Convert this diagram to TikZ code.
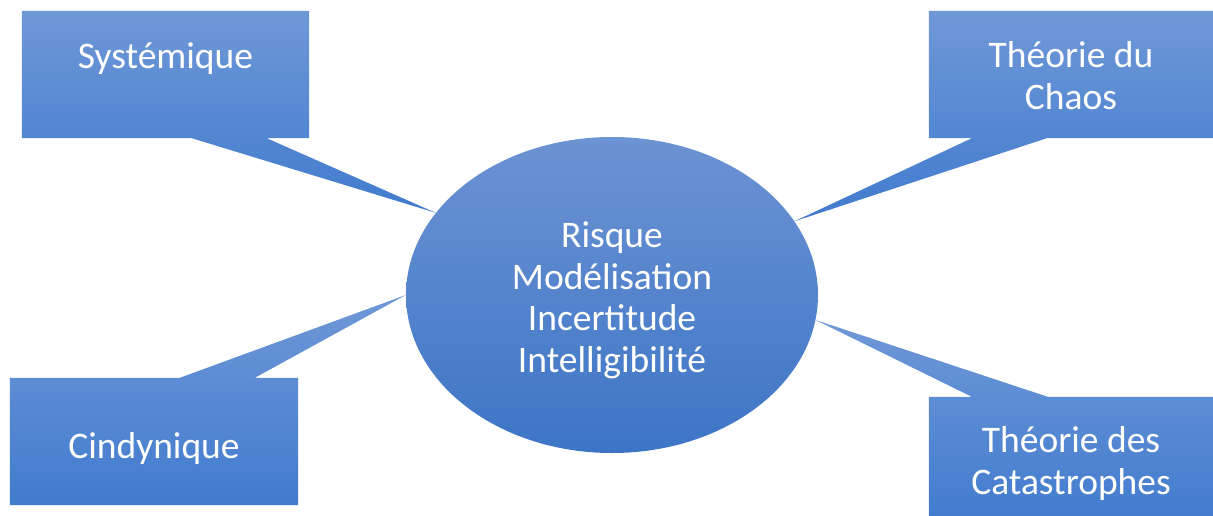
\documentclass[tikz,border=0pt]{standalone}
\usepackage{fontspec}
\setmainfont{Carlito}
\usetikzlibrary{shapes.geometric, positioning, backgrounds, calc}
\definecolor{calltop}{HTML}{6F98D7}
\definecolor{callbot}{HTML}{417BCE}
\definecolor{coretop}{HTML}{6C93D3}
\definecolor{corebot}{HTML}{3D75C6}

\begin{document}
\begin{tikzpicture}[
  x=1pt, y=-1pt,
  every node/.style={align=center},
  lbl/.style={text=white, font=\fontsize{37.5}{41.5}\selectfont, inner sep=0pt},
  boxframe/.style={rectangle, inner sep=0pt, minimum height=127pt},
  bubble/.style={top color=calltop, bottom color=callbot, draw=none},
  core/.style={ellipse, inner sep=0pt, minimum width=412pt, minimum height=316pt,
               top color=coretop, bottom color=corebot, draw=none},
]
\useasboundingbox (0,0) rectangle (1213,515);
\clip (0,0) rectangle (1213,515);

% ---------- central ellipse ----------
\node[core] (core) at (612,295) {};
\node[lbl, anchor=base] (corelbl) at (core |- 0,372) {Risque\\ Modélisation\\ Incertitude\\ Intelligibilité};

% ---------- callout frames ----------
\node[boxframe, minimum width=287pt] (sysbox)   at (165.5,74.5) {};
\node[boxframe, minimum width=284pt] (chaosbox) at (1071,74.5)  {};
\node[boxframe, minimum width=288pt] (cindbox)  at (154,441.5)  {};
\node[boxframe, minimum width=284pt] (catabox)  at (1071,460.5) {};

% ---------- callout texts (base = last line) ----------
\node[lbl, anchor=base] (sys)   at (165.5,68) {Systémique};
\node[lbl, anchor=base] (chaos) at (1071,109) {Théorie du\\ Chaos};
\node[lbl, anchor=base] (cind)  at (154,458)  {Cindynique};
\node[lbl, anchor=base] (cata)  at (1071,494) {Théorie des\\ Catastrophes};

% ---------- callout bodies with tails (behind the texts) ----------
\begin{scope}[on background layer]
  \path[bubble] (sysbox.north west) -- (sysbox.north east) -- (sysbox.south east)
    -- ($(sysbox.south west)+(245,0)$) -- (core.155) -- ($(sysbox.south west)+(170,0)$)
    -- (sysbox.south west) -- cycle;
  \path[bubble] (chaosbox.north west) -- (chaosbox.north east) -- (chaosbox.south east)
    -- ($(chaosbox.south west)+(118,0)$) -- (core.22) -- ($(chaosbox.south west)+(43,0)$)
    -- (chaosbox.south west) -- cycle;
  \path[bubble] (cindbox.south west) -- (cindbox.north west)
    -- ($(cindbox.north west)+(170,0)$) -- (core.180) -- ($(cindbox.north west)+(245,0)$)
    -- (cindbox.north east) -- (cindbox.south east) -- cycle;
  \path[bubble] (catabox.south west) -- (catabox.north west)
    -- ($(catabox.north west)+(43,0)$) -- (core.353) -- ($(catabox.north west)+(119,0)$)
    -- (catabox.north east) -- (catabox.south east) -- cycle;
\end{scope}
\end{tikzpicture}
\end{document}
